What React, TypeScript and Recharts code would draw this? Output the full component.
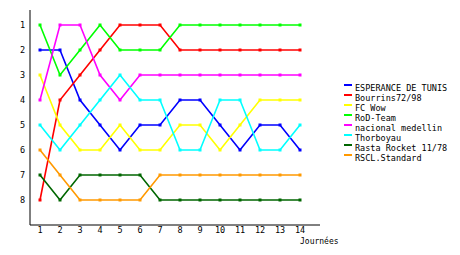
import React from 'react';
import { LineChart, Line, XAxis, YAxis, Legend } from 'recharts';

const journees = [1, 2, 3, 4, 5, 6, 7, 8, 9, 10, 11, 12, 13, 14];
const rangs = [1, 2, 3, 4, 5, 6, 7, 8];

const esperance = [2, 2, 4, 5, 6, 5, 5, 4, 4, 5, 6, 5, 5, 6];
const bourrins = [8, 4, 3, 2, 1, 1, 1, 2, 2, 2, 2, 2, 2, 2];
const fcWow = [3, 5, 6, 6, 5, 6, 6, 5, 5, 6, 5, 4, 4, 4];
const rodTeam = [1, 3, 2, 1, 2, 2, 2, 1, 1, 1, 1, 1, 1, 1];
const nacional = [4, 1, 1, 3, 4, 3, 3, 3, 3, 3, 3, 3, 3, 3];
const thorboyau = [5, 6, 5, 4, 3, 4, 4, 6, 6, 4, 4, 6, 6, 5];
const rasta = [7, 8, 7, 7, 7, 7, 8, 8, 8, 8, 8, 8, 8, 8];
const rscl = [6, 7, 8, 8, 8, 8, 7, 7, 7, 7, 7, 7, 7, 7];

const series = [
  { key: 'esperance', name: 'ESPERANCE DE TUNIS', color: '#0000ff', values: esperance },
  { key: 'bourrins', name: 'Bourrins72/98', color: '#ff0000', values: bourrins },
  { key: 'fcwow', name: 'FC Wow', color: '#ffff00', values: fcWow },
  { key: 'rod', name: 'RoD-Team', color: '#00ff00', values: rodTeam },
  { key: 'nacional', name: 'nacional medellin', color: '#ff00ff', values: nacional },
  { key: 'thorboyau', name: 'Thorboyau', color: '#00ffff', values: thorboyau },
  { key: 'rasta', name: 'Rasta Rocket 11/78', color: '#006600', values: rasta },
  { key: 'rscl', name: 'RSCL.Standard', color: '#ff9900', values: rscl },
];

const data = journees.map((j, i) => {
  const row: any = { j };
  series.forEach((s) => {
    row[s.key] = s.values[i];
  });
  return row;
});

const FONT = '"DejaVu Sans Mono", monospace';

const SquareDot = (color: string) => (props: any) => {
  const { cx, cy, index } = props;
  if (cx == null || cy == null) return null;
  return <rect key={`d-${index}`} x={cx - 1.5} y={cy - 1.5} width={3} height={3} fill={color} />;
};

const LegendContent = () => (
  <svg width={120} height={85} style={{ display: 'block' }}>
    {series.map((s, i) => (
      <g key={s.key}>
        <rect x={4} y={5 + i * 10} width={8} height={2} fill={s.color} />
        <text x={15} y={12 + i * 10} fontSize={8.5} fontFamily={FONT} fill="#000">
          {s.name}
        </text>
      </g>
    ))}
  </svg>
);

export default function App() {
  return (
    <div style={{ position: 'absolute', left: 0, top: 0, background: '#fff' }}>
      <LineChart width={460} height={255} data={data} margin={{ top: 10, right: 140, bottom: 0, left: 0 }}>
        <XAxis
          dataKey="j"
          type="number"
          domain={[0.5, 15]}
          ticks={journees}
          interval={0}
          allowDataOverflow
          tickLine={false}
          tickSize={0}
          tickMargin={2}
          height={30}
          stroke="#000"
          tick={{ fill: '#000', fontSize: 8.5, fontFamily: FONT }}
          label={{
            content: (p: any) => {
              const vb = p.viewBox || {};
              return (
                <text
                  x={vb.x + vb.width - 20}
                  y={vb.y + 19}
                  textAnchor="start"
                  fontSize={8}
                  fontFamily={FONT}
                  fill="#000"
                >
                  Journées
                </text>
              );
            },
          }}
        />
        <YAxis
          type="number"
          domain={[0.4, 9]}
          reversed
          ticks={rangs}
          interval={0}
          allowDataOverflow
          tickLine={false}
          tickSize={0}
          tickMargin={5}
          width={30}
          stroke="#000"
          tick={{ fill: '#000', fontSize: 8.5, fontFamily: FONT }}
        />
        <Legend
          layout="vertical"
          verticalAlign="middle"
          align="center"
          content={LegendContent}
          wrapperStyle={{ left: 340, top: 79, width: 120 }}
        />
        {series.map((s) => (
          <Line
            key={s.key}
            type="linear"
            dataKey={s.key}
            name={s.name}
            stroke={s.color}
            strokeWidth={1.6}
            dot={SquareDot(s.color)}
            activeDot={false}
            isAnimationActive={false}
          />
        ))}
      </LineChart>
    </div>
  );
}
